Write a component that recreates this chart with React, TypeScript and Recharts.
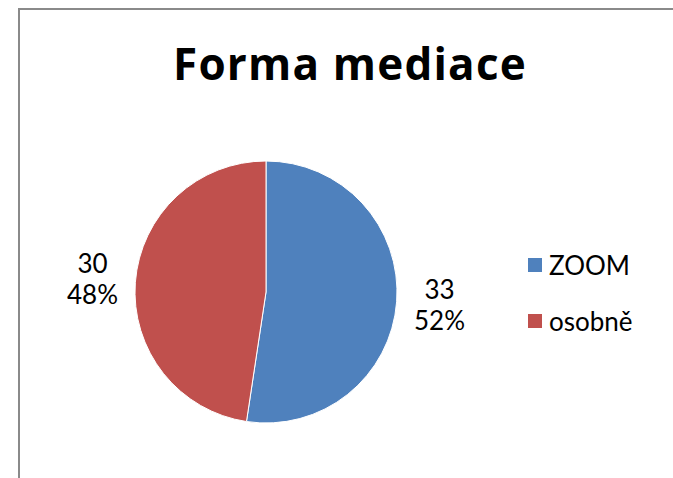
import { PieChart, Pie, Cell, Legend } from 'recharts'

const categories = ['ZOOM', 'osobně']
const counts = [33, 30]
const colors = ['#4F81BD', '#C0504D']

const data = categories.map((name, i) => ({ name, value: counts[i] }))
const total = counts.reduce((a, b) => a + b, 0)

const RAD = Math.PI / 180
const FONT = 'Lato, "Open Sans", sans-serif'

function renderLabel(props: any) {
  const { cx, cy, midAngle, outerRadius, value } = props
  const r = outerRadius + 43
  const x = cx + r * Math.cos(-midAngle * RAD)
  const y = cy + r * Math.sin(-midAngle * RAD)
  const pct = Math.round((value / total) * 100)
  return (
    <text x={x} y={y} textAnchor="middle" fontFamily={FONT} fontSize={26} fill="#000">
      <tspan x={x} dy={-6}>{value}</tspan>
      <tspan x={x} dy={31}>{pct}%</tspan>
    </text>
  )
}

function renderLegend(props: any) {
  const { payload } = props
  return (
    <div style={{ fontFamily: FONT, fontSize: 26, color: '#000' }}>
      {payload.map((p: any, i: number) => (
        <div key={i} style={{ display: 'flex', alignItems: 'center', height: 28, marginBottom: 28 }}>
          <span style={{ width: 14, height: 14, background: p.color, marginRight: 7, display: 'inline-block' }} />
          <span>{p.value}</span>
        </div>
      ))}
    </div>
  )
}

export default function App() {
  return (
    <div style={{ position: 'absolute', left: 0, top: 0, width: 673, height: 478, background: '#fff' }}>
      <div
        style={{
          position: 'absolute', left: 18, top: 8, width: 673, height: 478,
          borderLeft: '2px solid #8a8a8a', borderTop: '2px solid #8a8a8a',
        }}
      />
      <div
        style={{
          position: 'absolute', left: 0, top: 33, width: 700, textAlign: 'center',
          fontFamily: '"Open Sans", sans-serif', fontWeight: 700, fontSize: 44,
          letterSpacing: 1.2, color: '#000',
        }}
      >
        Forma mediace
      </div>
      <div style={{ position: 'absolute', left: 0, top: 0 }}>
        <PieChart width={673} height={478}>
          <Pie
            data={data}
            dataKey="value"
            nameKey="name"
            cx={261}
            cy={287}
            outerRadius={131}
            startAngle={90}
            endAngle={-270}
            stroke="#fff"
            strokeWidth={1}
            label={renderLabel}
            labelLine={false}
            isAnimationActive={false}
          >
            {data.map((d, i) => (
              <Cell key={d.name} fill={colors[i]} />
            ))}
          </Pie>
          <Legend
            content={renderLegend}
            layout="vertical"
            wrapperStyle={{ position: 'absolute', left: 528, top: 251, width: 140 }}
          />
        </PieChart>
      </div>
    </div>
  )
}
